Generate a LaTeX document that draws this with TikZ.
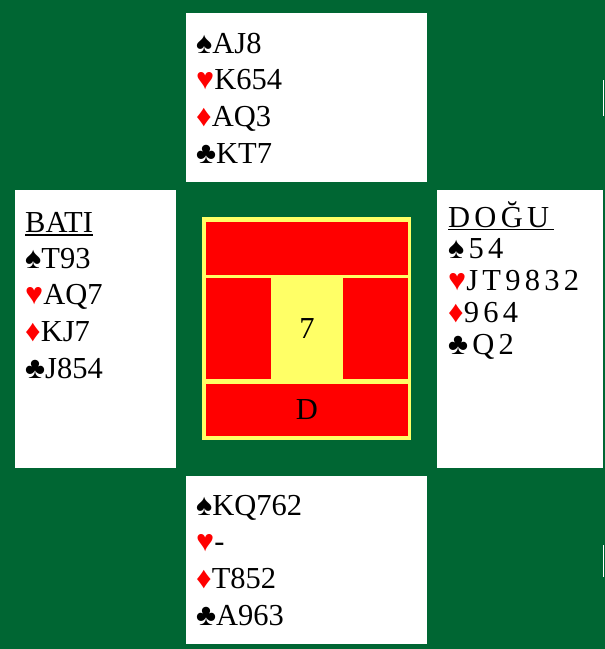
\documentclass[tikz,border=0pt]{standalone}
\usepackage{fontspec}
\setmainfont{Liberation Serif}
\newfontfamily\gesperrt[LetterSpace=14]{Liberation Serif}
\usepackage{xcolor}
\definecolor{tischgruen}{RGB}{0, 102, 51}
\definecolor{kartenrot}{RGB}{255, 0, 0}
\definecolor{hellgelb}{RGB}{255, 255, 102}

\newcommand{\pik}{♠}
\newcommand{\herz}{\textcolor{kartenrot}{♥}}
\newcommand{\karo}{\textcolor{kartenrot}{♦}}
\newcommand{\kreuz}{♣}

\begin{document}
\begin{tikzpicture}[x=1pt, y=-1pt,
    blatt/.style={anchor=base west, inner sep=0pt, font=\fontsize{30.5}{36}\selectfont},
    strich/.style={line width=1.8pt}]
    % Parameter für den Zeilenabstand
    \def\zeile{36.8}
    \def\zeileost{32}

    % Grüner Spieltisch
    \fill[tischgruen] (0,0) rectangle (605,649);

    % Weiße Felder der vier Hände
    \fill[white] (186,13) rectangle (427,182);   % Nord
    \fill[white] (15,190) rectangle (176,468);   % West
    \fill[white] (437,190) rectangle (603,468);  % Ost
    \fill[white] (186,476) rectangle (427,644);  % Süd

    % Kleine weiße Striche am rechten Rand
    \draw[white, line width=1pt] (603.5,80) -- (603.5,116);
    \draw[white, line width=1pt] (603.5,545) -- (603.5,577);

    % Mittelfeld mit Stich und Teiler
    \fill[hellgelb] (202,217) rectangle (411,440);
    \fill[kartenrot] (206,222) rectangle (408,275);
    \fill[kartenrot] (206,278) rectangle (271,379);
    \fill[kartenrot] (343,278) rectangle (408,379);
    \fill[kartenrot] (206,384) rectangle (408,436);
    \node[blatt, anchor=base] (stich) at (307,338) {7};
    \node[blatt, anchor=base] (teiler) at (307,419) {D};

    % Nord
    \foreach \t [count=\i from 0] in {\pik AJ8, \herz K654, \karo AQ3, \kreuz KT7}
        \node[blatt] (nord\i) at (196,53+\i*\zeile) {\t};

    % West mit unterstrichener Überschrift
    \node[blatt] (westkopf) at (25,232) {BATI};
    \draw[strich] ([yshift=-3pt]westkopf.base west) -- ([yshift=-3pt]westkopf.base east);
    \foreach \t [count=\i from 0] in {\pik T93, \herz AQ7, \karo KJ7, \kreuz J854}
        \node[blatt] (west\i) at (25,268+\i*\zeile) {\t};

    % Ost (gesperrt gesetzt)
    \node[blatt] (ostkopf) at (448,227) {\gesperrt DOĞU};
    \draw[strich] ([yshift=-2.5pt]ostkopf.base west) -- ([yshift=-2.5pt, xshift=5pt]ostkopf.base east);
    \foreach \t [count=\i from 0] in {\pik 54, \herz JT9832, \karo 964, \kreuz Q2}
        \node[blatt] (ost\i) at (448,258+\i*\zeileost) {\gesperrt\t};

    % Süd
    \foreach \t [count=\i from 0] in {\pik KQ762, \herz -, \karo T852, \kreuz A963}
        \node[blatt] (sued\i) at (196,515+\i*\zeile) {\t};
\end{tikzpicture}
\end{document}
